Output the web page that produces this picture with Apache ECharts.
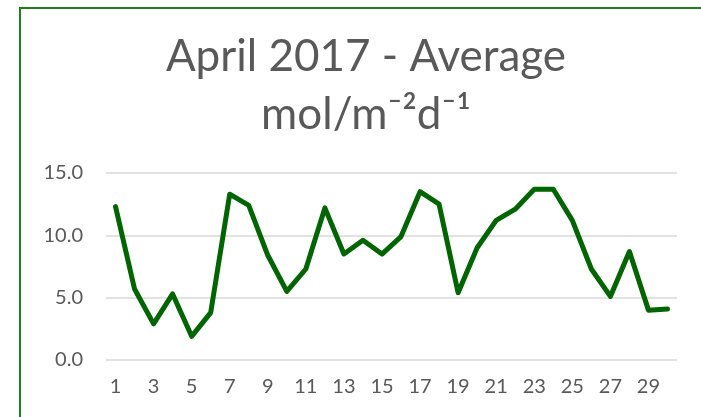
<!DOCTYPE html>
<html>
<head>
<meta charset="utf-8">
<title>April 2017 - Average</title>
<script src="https://cdn.jsdelivr.net/npm/echarts@6/dist/echarts.min.js"></script>
<style>
    html, body { margin: 0; padding: 0; background: #fff; }
    #chart { width: 701px; height: 417px; }
</style>
</head>
<body>
<div id="chart"></div>
<script>
// days of April 2017
const days = [ '1', '2', '3', '4', '5', '6', '7', '8', '9', '10', '11', '12', '13', '14', '15',
    '16', '17', '18', '19', '20', '21', '22', '23', '24', '25', '26', '27', '28', '29', '30' ];
// average mol/m-2d-1
const avgValues = [ 12.3, 5.7, 2.9, 5.3, 1.9, 3.8, 13.3, 12.4, 8.4, 5.5, 7.3, 12.2, 8.5, 9.6, 8.5,
    9.9, 13.5, 12.5, 5.4, 9.0, 11.2, 12.1, 13.7, 13.7, 11.2, 7.3, 5.1, 8.7, 4.0, 4.1 ];
const yTicks = [ 0, 5, 15 ];

const chartContext = {
    draw() {
        const c = echarts.init( document.getElementById( 'chart' ) );
        const font = 'Lato, "DejaVu Sans", sans-serif';

        c.setOption( {
            animation: false,
            graphic: [ {
                type: 'rect',
                shape: { x: 20, y: 8, width: 700, height: 430 },
                style: { fill: 'none', stroke: '#1f7f1f', lineWidth: 2 },
                silent: true
            } ],
            title: {
                text: 'April 2017 - Average\nmol/m\u207B\u00B2d\u207B\u00B9',
                left: 361,
                top: 23,
                textAlign: 'center',
                textStyle: { fontFamily: font, fontWeight: 'normal', fontSize: 44, lineHeight: 58, color: '#595959' }
            },
            grid: { left: 106, right: 24, top: 173, bottom: 57 },
            xAxis: {
                type: 'category',
                data: days,
                boundaryGap: true,
                axisLine: { show: false },
                axisTick: { show: false },
                axisLabel: { interval: 1, color: '#595959', fontFamily: font, fontSize: 20, margin: 17 }
            },
            yAxis: {
                type: 'value',
                min: yTicks[0],
                max: yTicks[2],
                interval: yTicks[1],
                axisLine: { show: false },
                axisTick: { show: false },
                axisLabel: { color: '#595959', fontFamily: font, fontSize: 20, margin: 23, formatter: v => v.toFixed( 1 ) },
                splitLine: { lineStyle: { color: '#d9d9d9', width: 1.5 } }
            },
            series: [ {
                type: 'line',
                data: avgValues,
                symbol: 'none',
                lineStyle: { color: '#006400', width: 5, join: 'round', cap: 'round' }
            } ]
        } );
    }
};

!(function () {
    document.addEventListener( "DOMContentLoaded", function () {
        Object.values( chartContext ).forEach( f => f() );
    } );
})();
</script>
</body>
</html>
